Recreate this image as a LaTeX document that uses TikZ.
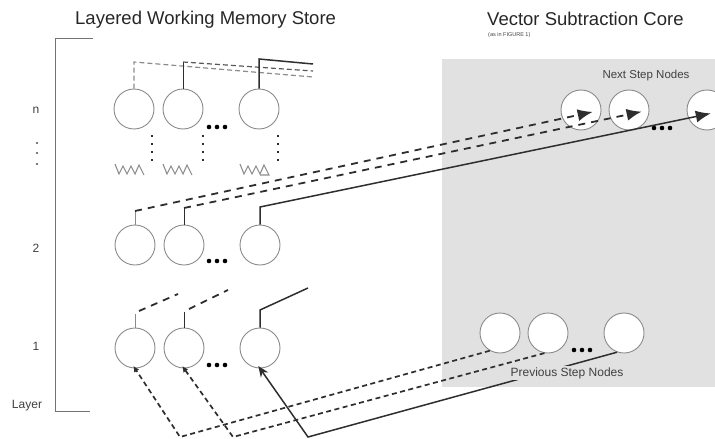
\documentclass[tikz,border=0pt]{standalone}
\usepackage{fontspec}
\setmainfont{Liberation Sans}
\usetikzlibrary{arrows.meta,calc}
\definecolor{boxgrey}{HTML}{E1E1E1}
\definecolor{ln}{HTML}{2E2E2E}
\definecolor{cgrey}{HTML}{8A8A8A}
\definecolor{lgrey}{HTML}{8C8C8C}
\begin{document}
\begin{tikzpicture}[x=1pt,y=-1pt,
  mem/.style={circle,draw=cgrey,line width=0.9pt,minimum size=40pt,inner sep=0pt},
  core/.style={mem,fill=white},
  heavydash/.style={draw=ln,line width=1.8pt,dash pattern=on 7pt off 6pt},
  lightdash/.style={draw=lgrey,line width=1.2pt,dash pattern=on 5pt off 3pt},
  botdash/.style={draw=ln,line width=1.7pt,dash pattern=on 5pt off 3.5pt},
  solidln/.style={draw=ln,line width=1.5pt},
  stemln/.style={draw=cgrey,line width=1pt},
  zig/.style={draw=lgrey,line width=1.1pt},
  vdots/.style={draw=ln,line width=2pt,dash pattern=on 2pt off 6pt},
  bigtip/.style={-{Latex[length=15pt,width=12pt]}},
  lbl/.style={font=\fontsize{12}{13}\selectfont,text=black!75}
]
\useasboundingbox (0,0) rectangle (715,439);
\clip (0,0) rectangle (715,439);

% grey core box
\fill[boxgrey] (442,59) rectangle (715,387);

% titles
\node[anchor=base west,inner sep=0pt,font=\fontsize{18.5}{20}\selectfont,text=black!85] (t1) at (75,24) {Layered Working Memory Store};
\node[anchor=base west,inner sep=0pt,font=\fontsize{18.5}{20}\selectfont,text=black!85] (t2) at (487,25) {Vector Subtraction Core};
\node[anchor=base west,inner sep=0pt,font=\fontsize{5.5}{6}\selectfont,text=black!75] (t3) at (488,36) {(as in FIGURE 1)};
\node[anchor=base,inner sep=0pt,font=\fontsize{11.5}{12}\selectfont,text=black!75] (t4) at (646,78) {Next Step Nodes};

% layer axis
\draw[draw=black!55,line width=1pt] (93,38) -- (55,38) -- (55,411) -- (90,411);
\node[lbl] (ln) at (36,110) {n};
\fill[black!70] (37,143) circle (1.2) (37,153) circle (1.2) (37,164) circle (1.2);
\node[lbl] (l2) at (36,248) {2};
\node[lbl] (l1) at (36,346) {1};
\node[lbl] (lay) at (27,406) {Layer};

% memory circles
\node[mem] (na) at (134,109) {};
\node[mem] (nb) at (183,109) {};
\node[mem] (nc) at (259,109) {};
\node[mem] (ma) at (135,245) {};
\node[mem] (mb) at (184,245) {};
\node[mem] (mc) at (260,245) {};
\node[mem] (la) at (135,348) {};
\node[mem] (lb) at (184,348) {};
\node[mem] (lc) at (260,348) {};

% ellipsis dots
\fill[black] (209,127) circle (2.3) (217,127) circle (2.3) (225,127) circle (2.3);
\fill[black] (209,261) circle (2.3) (217,261) circle (2.3) (225,261) circle (2.3);
\fill[black] (209,365) circle (2.3) (217,365) circle (2.3) (225,365) circle (2.3);

% core nodes
\node[core] (xa) at (581,110) {};
\node[core] (xb) at (629,110) {};
\node[core] (xc) at (707,110) {};
\fill[black] (654,128) circle (2.3) (662,128) circle (2.3) (670,128) circle (2.3);
\node[core] (pa) at (500,333) {};
\node[core] (pb) at (548,333) {};
\node[core] (pc) at (624,333) {};
\fill[black] (574,350) circle (2.3) (582,350) circle (2.3) (590,350) circle (2.3);

% layer n stems and lines
\coordinate (nat) at (134,62);
\coordinate (nbt) at (183,62);
\coordinate (nct) at (259,59);
\coordinate (nae) at (313,77);
\coordinate (nbe) at (313,71);
\coordinate (nce) at (313,64);
\draw[lightdash] (na.north) -- (nat) -- (nae);
\draw[stemln,draw=ln] (nb.north) -- (nbt);
\draw[lightdash,draw=ln!80] (nbt) -- (nbe);
\draw[solidln] (nc.north) -- (nct) -- (nce);

% dotted verticals and zigzags between n and 2
\coordinate (da1) at (152,135); \coordinate (da2) at (152,164);
\coordinate (db1) at (203,135); \coordinate (db2) at (203,164);
\coordinate (dc1) at (278,135); \coordinate (dc2) at (278,164);
\draw[vdots] (da1) -- (da2);
\draw[vdots] (db1) -- (db2);
\draw[vdots] (dc1) -- (dc2);
\draw[zig] (115,164) -- ++(4,10) -- ++(4,-8) -- ++(4,8) -- ++(4,-8) -- ++(4,8) -- ++(4,-9) -- ++(5,10);
\draw[zig] (163,164) -- ++(4,10) -- ++(4,-8) -- ++(4,8) -- ++(4,-8) -- ++(4,8) -- ++(4,-9) -- ++(5,10);
\draw[zig] (240,164) -- ++(4,10) -- ++(4,-8) -- ++(4,8) -- ++(4,-8) -- ++(4,8) -- ++(4,-9) -- ++(5,10) -- ++(-9,0);

% layer 2 -> next step nodes
\coordinate (mat) at (135,211);
\coordinate (mbt) at (184,208);
\coordinate (mct) at (260,207);
\draw[stemln] (ma.north) -- (mat);
\draw[stemln,draw=ln] (mb.north) -- (mbt);
\draw[heavydash,bigtip,shorten >=9pt] (mat) -- (xa.east);
\draw[heavydash,bigtip,shorten >=8pt] (mbt) -- (xb.east);
\draw[solidln,bigtip,shorten >=17pt] (mc.north) -- (mct) -- (xc.east);

% layer 1 stems and short lines
\coordinate (lat) at (135,314);
\coordinate (lbt) at (184,312);
\coordinate (lct) at (260,310);
\coordinate (lae) at (178,294);
\coordinate (lbe) at (228,290);
\coordinate (lce) at (308,288);
\draw[stemln] (la.north) -- (lat);
\draw[stemln,draw=ln] (lb.north) -- (lbt);
\draw[heavydash] ($(lat)+(4,-3)$) -- (lae);
\draw[heavydash] ($(lbt)+(5,-3)$) -- (lbe);
\draw[solidln] (lc.north) -- (lct) -- (lce);

% previous step nodes -> layer 1
\coordinate (ba) at (180,437);
\coordinate (bb) at (233,437);
\coordinate (bc) at (308,437);
\draw[solidln,-{Stealth[length=11pt,width=9pt]},shorten >=-3pt] (pc.-110) -- (bc) -- (lc.south);
\draw[botdash,-{Latex[length=6pt,width=6pt]},shorten >=-3pt] (pa.-120) -- (ba) -- (la.south);
\draw[botdash,-{Latex[length=6pt,width=6pt]},shorten >=-3pt] (pb.-100) -- (bb) -- (lb.south);
\node[fill=boxgrey,inner sep=1pt,font=\fontsize{12}{13}\selectfont,text=black!75] (plab) at (567,373) {Previous Step Nodes};
\end{tikzpicture}
\end{document}
